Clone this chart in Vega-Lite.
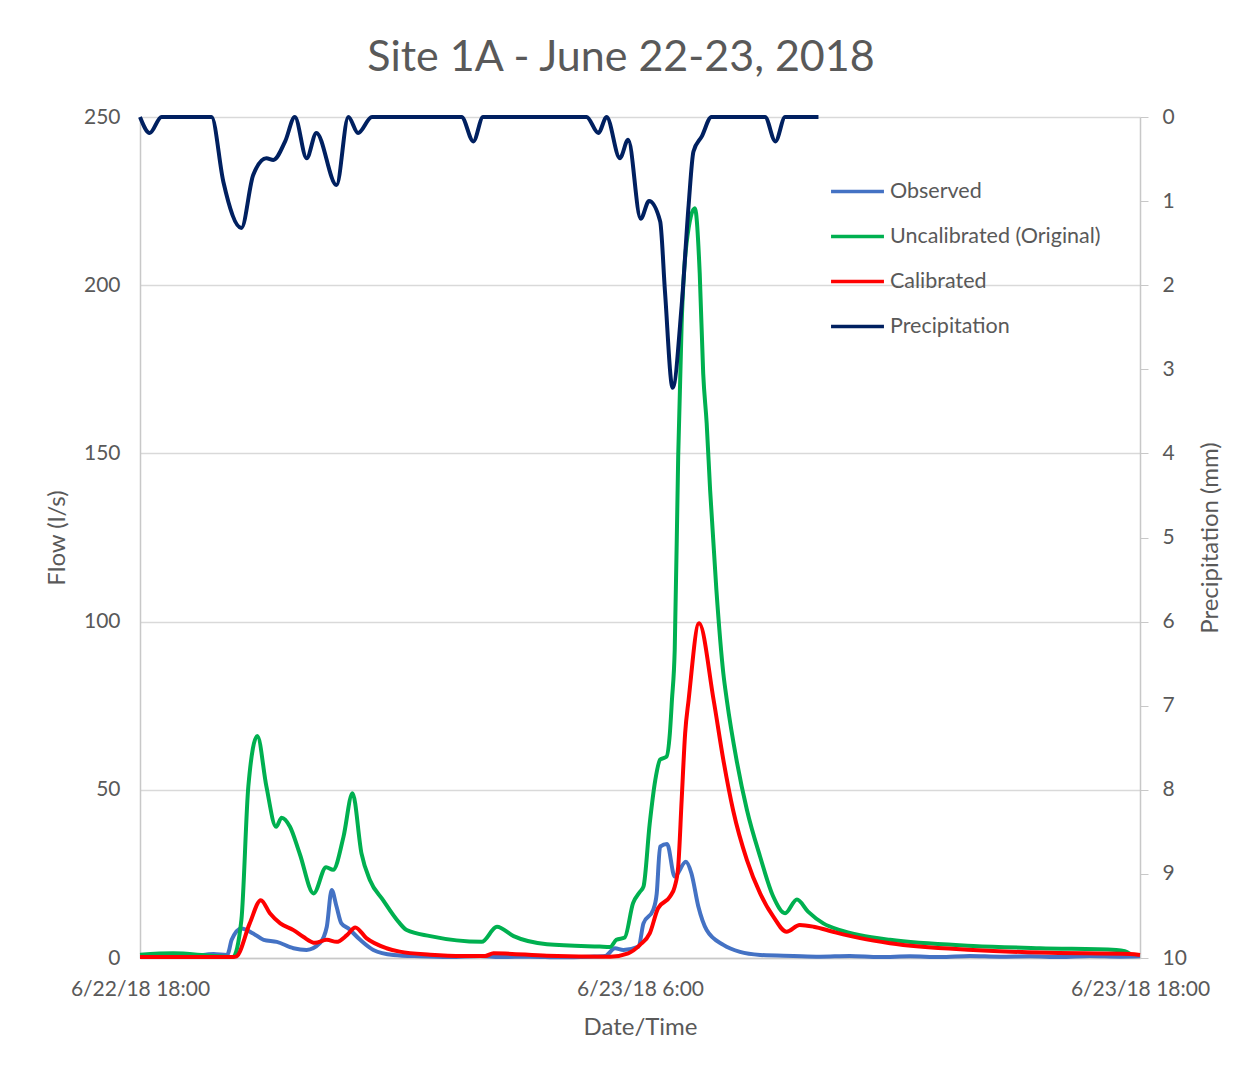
{
  "$schema": "https://vega.github.io/schema/vega-lite/v6.json",
  "width": 1000,
  "height": 841,
  "autosize": "none",
  "padding": {"left": 140, "top": 117, "right": 94, "bottom": 116},
  "background": "white",
  "title": {
    "text": "Site 1A - June 22-23, 2018",
    "font": "Lato",
    "fontSize": 43,
    "fontWeight": "normal",
    "color": "#595959",
    "anchor": "middle",
    "frame": "group",
    "dx": -19,
    "offset": 26
  },
  "config": {
    "view": {"stroke": null},
    "font": "Lato",
    "axis": {
      "labelFont": "Lato",
      "titleFont": "Lato",
      "labelColor": "#595959",
      "titleColor": "#595959",
      "labelFontSize": 21,
      "titleFontSize": 24,
      "titleFontWeight": "normal",
      "domainColor": "#C8C8C8",
      "domainWidth": 1.5,
      "tickColor": "#C8C8C8",
      "gridColor": "#D9D9D9",
      "gridWidth": 1.5
    },
    "legend": {
      "labelFont": "Lato",
      "labelFontSize": 21.5,
      "labelColor": "#595959",
      "labelLimit": 0
    }
  },
  "data": {
    "values": [
      {"t": "2018-06-22T18:00", "series": "Observed", "flow": 0.4},
      {"t": "2018-06-22T19:12", "series": "Observed", "flow": 0.5},
      {"t": "2018-06-22T19:46", "series": "Observed", "flow": 1.2},
      {"t": "2018-06-22T20:05", "series": "Observed", "flow": 0.9},
      {"t": "2018-06-22T20:07", "series": "Observed", "flow": 1.4},
      {"t": "2018-06-22T20:12", "series": "Observed", "flow": 5.4},
      {"t": "2018-06-22T20:26", "series": "Observed", "flow": 8.8},
      {"t": "2018-06-22T20:43", "series": "Observed", "flow": 7.3},
      {"t": "2018-06-22T20:58", "series": "Observed", "flow": 5.4},
      {"t": "2018-06-22T21:17", "series": "Observed", "flow": 4.8},
      {"t": "2018-06-22T21:41", "series": "Observed", "flow": 2.9},
      {"t": "2018-06-22T22:00", "series": "Observed", "flow": 2.4},
      {"t": "2018-06-22T22:19", "series": "Observed", "flow": 4.4},
      {"t": "2018-06-22T22:29", "series": "Observed", "flow": 9.3},
      {"t": "2018-06-22T22:36", "series": "Observed", "flow": 20.2},
      {"t": "2018-06-22T22:43", "series": "Observed", "flow": 15.3},
      {"t": "2018-06-22T22:50", "series": "Observed", "flow": 10.3},
      {"t": "2018-06-22T23:00", "series": "Observed", "flow": 8.8},
      {"t": "2018-06-22T23:17", "series": "Observed", "flow": 5.4},
      {"t": "2018-06-22T23:36", "series": "Observed", "flow": 2.4},
      {"t": "2018-06-23T00:05", "series": "Observed", "flow": 0.9},
      {"t": "2018-06-23T00:43", "series": "Observed", "flow": 0.5},
      {"t": "2018-06-23T01:26", "series": "Observed", "flow": 0.3},
      {"t": "2018-06-23T02:10", "series": "Observed", "flow": 0.6},
      {"t": "2018-06-23T02:38", "series": "Observed", "flow": 0.3},
      {"t": "2018-06-23T03:22", "series": "Observed", "flow": 0.4},
      {"t": "2018-06-23T04:05", "series": "Observed", "flow": 0.2},
      {"t": "2018-06-23T04:48", "series": "Observed", "flow": 0.4},
      {"t": "2018-06-23T05:10", "series": "Observed", "flow": 0.6},
      {"t": "2018-06-23T05:24", "series": "Observed", "flow": 2.9},
      {"t": "2018-06-23T05:36", "series": "Observed", "flow": 2.4},
      {"t": "2018-06-23T05:58", "series": "Observed", "flow": 3.4},
      {"t": "2018-06-23T06:05", "series": "Observed", "flow": 10.3},
      {"t": "2018-06-23T06:19", "series": "Observed", "flow": 14.3},
      {"t": "2018-06-23T06:24", "series": "Observed", "flow": 19.0},
      {"t": "2018-06-23T06:29", "series": "Observed", "flow": 33.1},
      {"t": "2018-06-23T06:39", "series": "Observed", "flow": 33.9},
      {"t": "2018-06-23T06:50", "series": "Observed", "flow": 24.2},
      {"t": "2018-06-23T07:06", "series": "Observed", "flow": 28.6},
      {"t": "2018-06-23T07:14", "series": "Observed", "flow": 25.2},
      {"t": "2018-06-23T07:24", "series": "Observed", "flow": 15.3},
      {"t": "2018-06-23T07:36", "series": "Observed", "flow": 8.3},
      {"t": "2018-06-23T08:00", "series": "Observed", "flow": 3.9},
      {"t": "2018-06-23T08:24", "series": "Observed", "flow": 1.8},
      {"t": "2018-06-23T08:53", "series": "Observed", "flow": 0.9},
      {"t": "2018-06-23T09:41", "series": "Observed", "flow": 0.6},
      {"t": "2018-06-23T10:19", "series": "Observed", "flow": 0.4},
      {"t": "2018-06-23T11:02", "series": "Observed", "flow": 0.6},
      {"t": "2018-06-23T11:45", "series": "Observed", "flow": 0.3},
      {"t": "2018-06-23T12:29", "series": "Observed", "flow": 0.5},
      {"t": "2018-06-23T13:12", "series": "Observed", "flow": 0.3},
      {"t": "2018-06-23T13:55", "series": "Observed", "flow": 0.6},
      {"t": "2018-06-23T14:38", "series": "Observed", "flow": 0.4},
      {"t": "2018-06-23T15:22", "series": "Observed", "flow": 0.5},
      {"t": "2018-06-23T16:05", "series": "Observed", "flow": 0.3},
      {"t": "2018-06-23T16:48", "series": "Observed", "flow": 0.6},
      {"t": "2018-06-23T17:31", "series": "Observed", "flow": 0.4},
      {"t": "2018-06-23T18:00", "series": "Observed", "flow": 0.5},

      {"t": "2018-06-22T18:00", "series": "Uncalibrated (Original)", "flow": 1.0},
      {"t": "2018-06-22T18:48", "series": "Uncalibrated (Original)", "flow": 1.4},
      {"t": "2018-06-22T19:41", "series": "Uncalibrated (Original)", "flow": 0.7},
      {"t": "2018-06-22T20:14", "series": "Uncalibrated (Original)", "flow": 0.3},
      {"t": "2018-06-22T20:26", "series": "Uncalibrated (Original)", "flow": 11.3},
      {"t": "2018-06-22T20:36", "series": "Uncalibrated (Original)", "flow": 51},
      {"t": "2018-06-22T20:49", "series": "Uncalibrated (Original)", "flow": 66},
      {"t": "2018-06-22T21:02", "series": "Uncalibrated (Original)", "flow": 51},
      {"t": "2018-06-22T21:16", "series": "Uncalibrated (Original)", "flow": 39},
      {"t": "2018-06-22T21:24", "series": "Uncalibrated (Original)", "flow": 41.7},
      {"t": "2018-06-22T21:36", "series": "Uncalibrated (Original)", "flow": 39},
      {"t": "2018-06-22T21:50", "series": "Uncalibrated (Original)", "flow": 31},
      {"t": "2018-06-22T22:10", "series": "Uncalibrated (Original)", "flow": 19.2},
      {"t": "2018-06-22T22:28", "series": "Uncalibrated (Original)", "flow": 27},
      {"t": "2018-06-22T22:38", "series": "Uncalibrated (Original)", "flow": 26.2},
      {"t": "2018-06-22T22:53", "series": "Uncalibrated (Original)", "flow": 36},
      {"t": "2018-06-22T23:06", "series": "Uncalibrated (Original)", "flow": 49},
      {"t": "2018-06-22T23:19", "series": "Uncalibrated (Original)", "flow": 31},
      {"t": "2018-06-22T23:31", "series": "Uncalibrated (Original)", "flow": 23.2},
      {"t": "2018-06-22T23:50", "series": "Uncalibrated (Original)", "flow": 17.2},
      {"t": "2018-06-23T00:12", "series": "Uncalibrated (Original)", "flow": 10.8},
      {"t": "2018-06-23T00:24", "series": "Uncalibrated (Original)", "flow": 8.3},
      {"t": "2018-06-23T00:58", "series": "Uncalibrated (Original)", "flow": 6.5},
      {"t": "2018-06-23T02:12", "series": "Uncalibrated (Original)", "flow": 4.8},
      {"t": "2018-06-23T02:34", "series": "Uncalibrated (Original)", "flow": 9.3},
      {"t": "2018-06-23T02:58", "series": "Uncalibrated (Original)", "flow": 6.5},
      {"t": "2018-06-23T03:46", "series": "Uncalibrated (Original)", "flow": 4.1},
      {"t": "2018-06-23T05:02", "series": "Uncalibrated (Original)", "flow": 3.4},
      {"t": "2018-06-23T05:17", "series": "Uncalibrated (Original)", "flow": 3.3},
      {"t": "2018-06-23T05:26", "series": "Uncalibrated (Original)", "flow": 5.4},
      {"t": "2018-06-23T05:38", "series": "Uncalibrated (Original)", "flow": 6.1},
      {"t": "2018-06-23T05:50", "series": "Uncalibrated (Original)", "flow": 16.3},
      {"t": "2018-06-23T06:00", "series": "Uncalibrated (Original)", "flow": 19.7},
      {"t": "2018-06-23T06:05", "series": "Uncalibrated (Original)", "flow": 21.2},
      {"t": "2018-06-23T06:14", "series": "Uncalibrated (Original)", "flow": 40},
      {"t": "2018-06-23T06:22", "series": "Uncalibrated (Original)", "flow": 52.9},
      {"t": "2018-06-23T06:29", "series": "Uncalibrated (Original)", "flow": 59},
      {"t": "2018-06-23T06:38", "series": "Uncalibrated (Original)", "flow": 59.8},
      {"t": "2018-06-23T06:43", "series": "Uncalibrated (Original)", "flow": 66.8},
      {"t": "2018-06-23T06:46", "series": "Uncalibrated (Original)", "flow": 76.7},
      {"t": "2018-06-23T06:50", "series": "Uncalibrated (Original)", "flow": 91.6},
      {"t": "2018-06-23T06:55", "series": "Uncalibrated (Original)", "flow": 149},
      {"t": "2018-06-23T07:00", "series": "Uncalibrated (Original)", "flow": 188.7},
      {"t": "2018-06-23T07:07", "series": "Uncalibrated (Original)", "flow": 212.4},
      {"t": "2018-06-23T07:19", "series": "Uncalibrated (Original)", "flow": 222.9},
      {"t": "2018-06-23T07:26", "series": "Uncalibrated (Original)", "flow": 203.5},
      {"t": "2018-06-23T07:31", "series": "Uncalibrated (Original)", "flow": 173.8},
      {"t": "2018-06-23T07:36", "series": "Uncalibrated (Original)", "flow": 159},
      {"t": "2018-06-23T07:41", "series": "Uncalibrated (Original)", "flow": 139},
      {"t": "2018-06-23T07:50", "series": "Uncalibrated (Original)", "flow": 109.4},
      {"t": "2018-06-23T08:00", "series": "Uncalibrated (Original)", "flow": 84.6},
      {"t": "2018-06-23T08:05", "series": "Uncalibrated (Original)", "flow": 76.7},
      {"t": "2018-06-23T08:19", "series": "Uncalibrated (Original)", "flow": 58.9},
      {"t": "2018-06-23T08:34", "series": "Uncalibrated (Original)", "flow": 44},
      {"t": "2018-06-23T08:53", "series": "Uncalibrated (Original)", "flow": 30.1},
      {"t": "2018-06-23T09:12", "series": "Uncalibrated (Original)", "flow": 18.2},
      {"t": "2018-06-23T09:29", "series": "Uncalibrated (Original)", "flow": 13.3},
      {"t": "2018-06-23T09:46", "series": "Uncalibrated (Original)", "flow": 17.4},
      {"t": "2018-06-23T10:02", "series": "Uncalibrated (Original)", "flow": 13.8},
      {"t": "2018-06-23T10:24", "series": "Uncalibrated (Original)", "flow": 10.3},
      {"t": "2018-06-23T10:48", "series": "Uncalibrated (Original)", "flow": 8.3},
      {"t": "2018-06-23T11:17", "series": "Uncalibrated (Original)", "flow": 6.8},
      {"t": "2018-06-23T12:00", "series": "Uncalibrated (Original)", "flow": 5.4},
      {"t": "2018-06-23T14:00", "series": "Uncalibrated (Original)", "flow": 3.6},
      {"t": "2018-06-23T15:36", "series": "Uncalibrated (Original)", "flow": 2.9},
      {"t": "2018-06-23T17:26", "series": "Uncalibrated (Original)", "flow": 2.4},
      {"t": "2018-06-23T17:38", "series": "Uncalibrated (Original)", "flow": 2.0},
      {"t": "2018-06-23T17:46", "series": "Uncalibrated (Original)", "flow": 1.2},

      {"t": "2018-06-22T18:00", "series": "Calibrated", "flow": 0.3},
      {"t": "2018-06-22T20:14", "series": "Calibrated", "flow": 0.3},
      {"t": "2018-06-22T20:19", "series": "Calibrated", "flow": 0.5},
      {"t": "2018-06-22T20:38", "series": "Calibrated", "flow": 10.3},
      {"t": "2018-06-22T20:54", "series": "Calibrated", "flow": 17.2},
      {"t": "2018-06-22T21:07", "series": "Calibrated", "flow": 13.3},
      {"t": "2018-06-22T21:22", "series": "Calibrated", "flow": 10.3},
      {"t": "2018-06-22T21:41", "series": "Calibrated", "flow": 8.3},
      {"t": "2018-06-22T21:55", "series": "Calibrated", "flow": 6.3},
      {"t": "2018-06-22T22:12", "series": "Calibrated", "flow": 4.5},
      {"t": "2018-06-22T22:29", "series": "Calibrated", "flow": 5.4},
      {"t": "2018-06-22T22:43", "series": "Calibrated", "flow": 4.8},
      {"t": "2018-06-22T22:58", "series": "Calibrated", "flow": 6.8},
      {"t": "2018-06-22T23:10", "series": "Calibrated", "flow": 9.1},
      {"t": "2018-06-22T23:26", "series": "Calibrated", "flow": 5.9},
      {"t": "2018-06-22T23:55", "series": "Calibrated", "flow": 2.9},
      {"t": "2018-06-23T00:14", "series": "Calibrated", "flow": 1.9},
      {"t": "2018-06-23T00:58", "series": "Calibrated", "flow": 1.0},
      {"t": "2018-06-23T01:45", "series": "Calibrated", "flow": 0.6},
      {"t": "2018-06-23T02:17", "series": "Calibrated", "flow": 0.6},
      {"t": "2018-06-23T02:29", "series": "Calibrated", "flow": 1.4},
      {"t": "2018-06-23T03:46", "series": "Calibrated", "flow": 0.7},
      {"t": "2018-06-23T05:17", "series": "Calibrated", "flow": 0.4},
      {"t": "2018-06-23T05:43", "series": "Calibrated", "flow": 1.4},
      {"t": "2018-06-23T06:00", "series": "Calibrated", "flow": 3.9},
      {"t": "2018-06-23T06:14", "series": "Calibrated", "flow": 7.3},
      {"t": "2018-06-23T06:26", "series": "Calibrated", "flow": 14.8},
      {"t": "2018-06-23T06:43", "series": "Calibrated", "flow": 18.2},
      {"t": "2018-06-23T06:50", "series": "Calibrated", "flow": 21.2},
      {"t": "2018-06-23T06:55", "series": "Calibrated", "flow": 27.1},
      {"t": "2018-06-23T07:00", "series": "Calibrated", "flow": 47},
      {"t": "2018-06-23T07:05", "series": "Calibrated", "flow": 66.8},
      {"t": "2018-06-23T07:10", "series": "Calibrated", "flow": 76.7},
      {"t": "2018-06-23T07:25", "series": "Calibrated", "flow": 99.5},
      {"t": "2018-06-23T07:46", "series": "Calibrated", "flow": 76.7},
      {"t": "2018-06-23T08:00", "series": "Calibrated", "flow": 58.9},
      {"t": "2018-06-23T08:14", "series": "Calibrated", "flow": 44},
      {"t": "2018-06-23T08:34", "series": "Calibrated", "flow": 29.1},
      {"t": "2018-06-23T08:53", "series": "Calibrated", "flow": 19.2},
      {"t": "2018-06-23T09:12", "series": "Calibrated", "flow": 12.3},
      {"t": "2018-06-23T09:31", "series": "Calibrated", "flow": 7.8},
      {"t": "2018-06-23T09:50", "series": "Calibrated", "flow": 9.8},
      {"t": "2018-06-23T10:10", "series": "Calibrated", "flow": 9.3},
      {"t": "2018-06-23T10:38", "series": "Calibrated", "flow": 7.8},
      {"t": "2018-06-23T11:17", "series": "Calibrated", "flow": 5.9},
      {"t": "2018-06-23T12:00", "series": "Calibrated", "flow": 4.4},
      {"t": "2018-06-23T14:00", "series": "Calibrated", "flow": 2.4},
      {"t": "2018-06-23T15:36", "series": "Calibrated", "flow": 1.6},
      {"t": "2018-06-23T17:46", "series": "Calibrated", "flow": 1.2},
      {"t": "2018-06-23T18:00", "series": "Calibrated", "flow": 0.9},

      {"t": "2018-06-22T18:00", "series": "Precipitation", "precip": 0},
      {"t": "2018-06-22T18:14", "series": "Precipitation", "precip": 0.19},
      {"t": "2018-06-22T18:31", "series": "Precipitation", "precip": 0},
      {"t": "2018-06-22T19:43", "series": "Precipitation", "precip": 0},
      {"t": "2018-06-22T20:00", "series": "Precipitation", "precip": 0.77},
      {"t": "2018-06-22T20:26", "series": "Precipitation", "precip": 1.32},
      {"t": "2018-06-22T20:43", "series": "Precipitation", "precip": 0.69},
      {"t": "2018-06-22T21:02", "series": "Precipitation", "precip": 0.49},
      {"t": "2018-06-22T21:12", "series": "Precipitation", "precip": 0.51},
      {"t": "2018-06-22T21:29", "series": "Precipitation", "precip": 0.29},
      {"t": "2018-06-22T21:43", "series": "Precipitation", "precip": 0},
      {"t": "2018-06-22T22:00", "series": "Precipitation", "precip": 0.49},
      {"t": "2018-06-22T22:14", "series": "Precipitation", "precip": 0.19},
      {"t": "2018-06-22T22:43", "series": "Precipitation", "precip": 0.81},
      {"t": "2018-06-22T23:00", "series": "Precipitation", "precip": 0},
      {"t": "2018-06-22T23:14", "series": "Precipitation", "precip": 0.19},
      {"t": "2018-06-22T23:34", "series": "Precipitation", "precip": 0},
      {"t": "2018-06-23T01:43", "series": "Precipitation", "precip": 0},
      {"t": "2018-06-23T02:00", "series": "Precipitation", "precip": 0.29},
      {"t": "2018-06-23T02:14", "series": "Precipitation", "precip": 0},
      {"t": "2018-06-23T04:43", "series": "Precipitation", "precip": 0},
      {"t": "2018-06-23T05:00", "series": "Precipitation", "precip": 0.19},
      {"t": "2018-06-23T05:12", "series": "Precipitation", "precip": 0},
      {"t": "2018-06-23T05:31", "series": "Precipitation", "precip": 0.49},
      {"t": "2018-06-23T05:43", "series": "Precipitation", "precip": 0.27},
      {"t": "2018-06-23T06:01", "series": "Precipitation", "precip": 1.21},
      {"t": "2018-06-23T06:13", "series": "Precipitation", "precip": 1.0},
      {"t": "2018-06-23T06:29", "series": "Precipitation", "precip": 1.24},
      {"t": "2018-06-23T06:36", "series": "Precipitation", "precip": 2.08},
      {"t": "2018-06-23T06:47", "series": "Precipitation", "precip": 3.22},
      {"t": "2018-06-23T07:00", "series": "Precipitation", "precip": 2.24},
      {"t": "2018-06-23T07:10", "series": "Precipitation", "precip": 1.05},
      {"t": "2018-06-23T07:17", "series": "Precipitation", "precip": 0.41},
      {"t": "2018-06-23T07:29", "series": "Precipitation", "precip": 0.23},
      {"t": "2018-06-23T07:43", "series": "Precipitation", "precip": 0},
      {"t": "2018-06-23T09:00", "series": "Precipitation", "precip": 0},
      {"t": "2018-06-23T09:15", "series": "Precipitation", "precip": 0.29},
      {"t": "2018-06-23T09:29", "series": "Precipitation", "precip": 0},
      {"t": "2018-06-23T10:17", "series": "Precipitation", "precip": 0}
    ]
  },
  "encoding": {
    "x": {
      "field": "t",
      "type": "temporal",
      "scale": {
        "domain": [
          {"year": 2018, "month": 6, "date": 22, "hours": 18},
          {"year": 2018, "month": 6, "date": 23, "hours": 18}
        ]
      },
      "axis": {
        "title": "Date/Time",
        "values": [
          {"year": 2018, "month": 6, "date": 22, "hours": 18},
          {"year": 2018, "month": 6, "date": 23, "hours": 6},
          {"year": 2018, "month": 6, "date": 23, "hours": 18}
        ],
        "format": "%-m/%-d/%y %-H:%M",
        "labelFlush": false,
        "labelOverlap": false,
        "grid": false,
        "ticks": false,
        "labelPadding": 20,
        "titlePadding": 16
      }
    },
    "color": {
      "field": "series",
      "type": "nominal",
      "scale": {
        "domain": ["Observed", "Uncalibrated (Original)", "Calibrated", "Precipitation"],
        "range": ["#4472C4", "#00B050", "#FF0000", "#002060"]
      },
      "legend": {
        "title": null,
        "orient": "none",
        "legendX": 689,
        "legendY": 46,
        "direction": "vertical",
        "symbolType": "stroke",
        "symbolSize": 2800,
        "symbolStrokeWidth": 3.5,
        "labelOffset": 4,
        "rowPadding": 6,
        "padding": 0
      }
    }
  },
  "layer": [
    {
      "transform": [{"filter": "datum.series !== 'Precipitation'"}],
      "mark": {"type": "line", "interpolate": "monotone", "strokeWidth": 4},
      "encoding": {
        "y": {
          "field": "flow",
          "type": "quantitative",
          "scale": {"domain": [0, 250], "nice": false},
          "axis": {
            "title": "Flow (l/s)",
            "values": [0, 50, 100, 150, 200, 250],
            "ticks": false,
            "grid": true,
            "labelPadding": 20,
            "titlePadding": 14
          }
        }
      }
    },
    {
      "transform": [{"filter": "datum.series === 'Precipitation'"}],
      "mark": {"type": "line", "interpolate": "monotone", "strokeWidth": 4},
      "encoding": {
        "y": {
          "field": "precip",
          "type": "quantitative",
          "scale": {"domain": [0, 10], "nice": false, "reverse": true},
          "axis": {
            "orient": "right",
            "title": "Precipitation (mm)",
            "titleAngle": 270,
            "values": [0, 1, 2, 3, 4, 5, 6, 7, 8, 9, 10],
            "ticks": true,
            "tickSize": 8,
            "grid": false,
            "labelPadding": 14,
            "titlePadding": 36
          }
        }
      }
    }
  ],
  "resolve": {"scale": {"y": "independent"}}
}
